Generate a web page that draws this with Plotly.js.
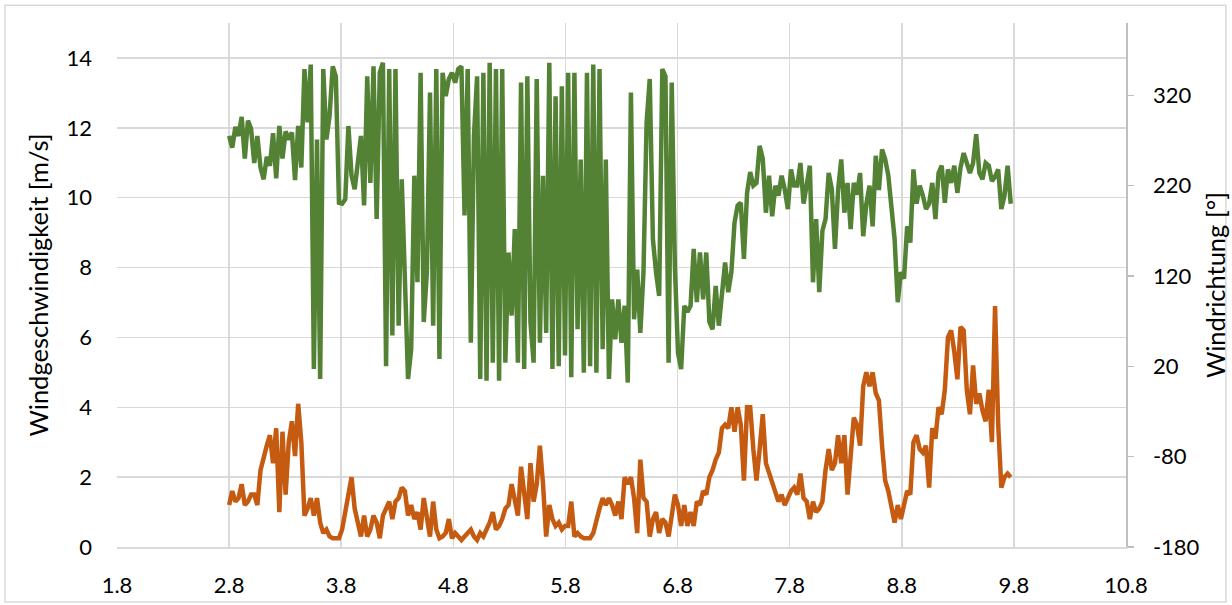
<!DOCTYPE html>
<html>
<head>
<meta charset="utf-8">
<script src="https://cdn.plot.ly/plotly-3.0.1.min.js"></script>
<style>
html,body{margin:0;padding:0;background:#fff;}
#chart{width:1232px;height:605px;}
</style>
</head>
<body>
<div id="chart"></div>
<script>
// time axis: regular samples
const xStart = 2.8;
const xStep = 0.028;

// Windgeschwindigkeit [m/s] (left axis)
const windSpeed = [
1.2,1.6,1.3,1.4,1.8,1.2,1.3,1.5,1.5,1.2,
2.2,2.6,2.9,3.2,2.4,3.4,1.0,3.3,1.5,3.0,
3.6,2.6,4.1,3.0,0.9,1.1,1.4,0.9,1.4,0.7,
0.4,0.5,0.3,0.25,0.25,0.25,0.5,1.0,1.4,2.0,
1.1,0.7,0.3,0.9,0.3,0.5,0.9,0.7,0.25,0.9,
1.1,1.3,0.8,1.3,1.4,1.7,1.6,0.9,1.2,0.8,
1.0,0.5,1.4,0.9,0.3,1.3,0.5,0.25,0.3,0.4,
0.8,0.25,0.4,0.3,0.2,0.3,0.4,0.5,0.3,0.2,
0.4,0.3,0.5,0.7,1.0,0.5,0.6,0.8,1.1,1.2,
1.8,1.3,0.9,2.3,1.4,0.8,2.4,1.3,1.8,2.9,
1.8,0.3,1.2,0.8,0.6,0.7,0.5,0.6,0.6,1.3,
0.3,0.4,0.3,0.25,0.25,0.25,0.4,0.8,1.1,1.4,
1.2,1.4,1.2,0.9,1.3,0.8,2.0,1.8,2.0,1.4,
0.4,2.5,1.4,1.3,0.3,0.8,1.0,0.4,0.8,0.7,
0.3,0.9,1.5,1.2,0.6,1.2,0.6,1.0,0.6,1.3,
1.2,1.6,1.5,2.0,2.2,2.5,2.7,3.4,3.5,3.4,
4.0,3.3,4.0,3.5,1.9,4.0,4.0,2.8,1.9,2.8,
3.8,2.4,2.1,1.8,1.6,1.3,1.5,1.2,1.4,1.6,
1.7,1.5,2.1,1.4,1.3,0.8,1.3,1.0,1.1,1.3,
2.2,2.8,2.2,2.4,3.2,2.4,3.2,1.5,2.6,3.7,
3.5,2.9,4.6,5.0,4.6,5.0,4.4,4.2,2.9,1.9,
1.6,1.2,0.7,1.2,0.8,1.2,1.6,1.5,3.0,3.2,
2.8,2.7,2.9,1.7,3.4,3.1,4.0,3.8,4.5,6.0,
6.2,5.6,4.8,6.3,6.2,4.5,3.8,5.2,4.1,4.4,
3.9,3.6,4.5,3.0,6.9,3.5,1.7,2.0,2.1,2.0
];

// Windrichtung [°] (right axis)
const windDir = [
275,262,285,275,296,250,292,283,245,275,
240,227,252,242,278,228,286,250,280,271,
279,226,286,240,349,290,354,17,271,6,
349,271,297,352,341,201,200,205,286,231,
216,242,275,198,341,223,352,183,345,356,
20,349,54,349,65,227,102,6,39,231,
113,345,69,124,323,65,349,28,345,319,
338,345,334,349,352,187,349,46,275,341,
6,345,4,356,24,349,4,349,24,146,
76,172,24,334,17,341,69,24,338,46,
231,57,356,17,319,20,330,32,345,8,
345,61,249,13,345,20,354,13,349,39,
249,6,94,50,94,46,87,2,323,72,
127,57,124,290,338,161,124,98,349,341,
24,334,131,35,17,87,80,87,150,91,
146,94,146,69,61,109,65,105,135,102,
124,179,198,201,139,212,235,220,223,264,
250,190,231,186,220,209,231,216,194,238,
220,220,245,200,225,242,113,183,102,170,
183,234,216,150,215,249,190,223,172,223,
210,234,164,200,220,175,253,215,260,249,
231,198,161,91,124,117,175,157,238,200,
220,209,194,200,223,183,234,242,201,238,
223,242,212,240,256,245,234,245,277,234,
227,245,242,225,230,238,194,209,242,200
];

// tick labels
const xTicks = [1.8,2.8,3.8,4.8,5.8,6.8,7.8,8.8,9.8,10.8];
const yTicks = [0,2,4,6,8,10,12,14];
const y2Ticks = [-180,-80,20,120,220,320];
const y2Labels = ['-180','-80','20','120','220','320'];

const xs = windSpeed.map((_, i) => +(xStart + i * xStep).toFixed(3));

const fontFam = 'Lato, Carlito, "Open Sans", sans-serif';
const grid = '#d9d9d9';
const tickFont = {family: fontFam, size: 22, color: '#000'};
const titleFont = {family: fontFam, size: 25.5, color: '#000'};

const traces = [
  {x: xs, y: windSpeed, type: 'scatter', mode: 'lines', name: 'Windgeschwindigkeit',
   line: {color: '#C55A11', width: 4.5}, yaxis: 'y'},
  {x: xs, y: windDir, type: 'scatter', mode: 'lines', name: 'Windrichtung',
   line: {color: '#548235', width: 4.5}, yaxis: 'y2'}
];

const layout = {
  width: 1232, height: 605,
  margin: {l: 117, r: 106, t: 23, b: 58},
  paper_bgcolor: '#fff', plot_bgcolor: '#fff',
  showlegend: false,
  hovermode: false,
  font: {family: fontFam, size: 22, color: '#000'},
  xaxis: {
    range: [1.8, 10.8], tickvals: xTicks, ticktext: xTicks.map(v => v.toFixed(1)),
    showgrid: true, gridcolor: grid, gridwidth: 1.5,
    showline: true, linecolor: grid, linewidth: 1.5,
    zeroline: false, ticks: '', ticklabelstandoff: 18,
    tickfont: tickFont
  },
  yaxis: {
    range: [0, 15], tickvals: yTicks,
    showgrid: true, gridcolor: grid, gridwidth: 1.5,
    showline: false, zeroline: false, ticks: '', ticklabelstandoff: 24,
    tickfont: tickFont,
    title: {text: 'Windgeschwindigkeit [m/s]', font: titleFont, standoff: 10}
  },
  yaxis2: {
    range: [-180, 400], tickvals: y2Ticks, ticktext: y2Labels, overlaying: 'y', side: 'right',
    showgrid: false, showline: true, linecolor: '#bfbfbf', linewidth: 1.5,
    zeroline: false, ticks: 'outside', ticklen: 6, tickcolor: '#bfbfbf', tickwidth: 1.5,
    ticklabelstandoff: 15,
    tickfont: tickFont,
    title: {text: 'Windrichtung [°]', font: titleFont, standoff: 8}
  },
  shapes: [
    {type: 'rect', xref: 'paper', yref: 'paper', x0: -0.111, x1: 1.099, y0: -0.105, y1: 1.034,
     line: {color: '#d9d9d9', width: 1.5}, fillcolor: 'rgba(0,0,0,0)', layer: 'below'}
  ]
};

Plotly.newPlot('chart', traces, layout, {displayModeBar: false, staticPlot: true});
</script>
</body>
</html>
